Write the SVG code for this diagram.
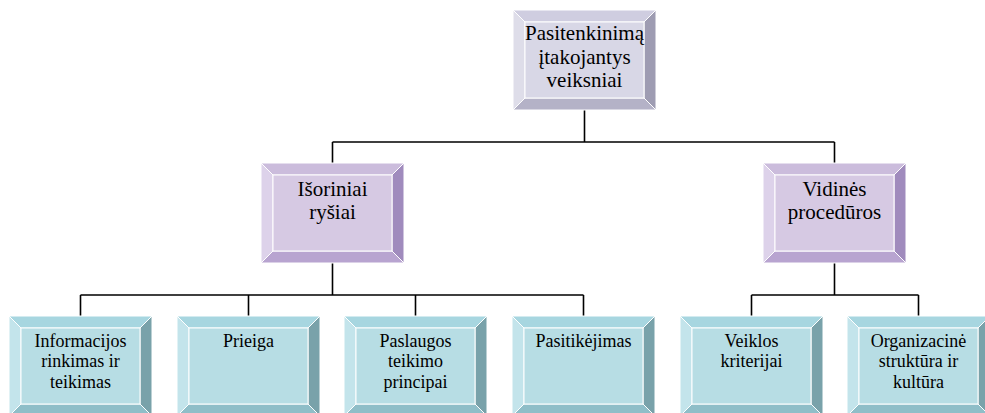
<svg xmlns="http://www.w3.org/2000/svg" width="985" height="413" viewBox="0 0 985 413">
<defs>
<style>
  .edge { stroke: #ffffff; stroke-width: 1; }
  .g .t { fill: #cfcde0; } .g .l { fill: #dedde9; } .g .r { fill: #9e9cb2; } .g .b { fill: #b4b2c7; } .g .in { fill: #d8d7e6; }
  .p .t { fill: #cbbcdc; } .p .l { fill: #ddd2ea; } .p .r { fill: #a08bbd; } .p .b { fill: #b8a4d0; } .p .in { fill: #d6c9e3; }
  .c .t { fill: #a7d6e0; } .c .l { fill: #c3e4eb; } .c .r { fill: #79a2aa; } .c .b { fill: #8fbec8; } .c .in { fill: #b7dde4; }
  .conn { fill: none; stroke: #000000; stroke-width: 1.6; }
</style>
</defs>

<g id="connectors">
  <path class="conn" d="M584.5,110 V142 M332.5,142 H834.5 M332.5,142 V163 M834.5,142 V163"/>
  <path class="conn" d="M332.5,263 V295 M80.5,295 H583.5 M80.5,295 V316 M248.5,295 V316 M415.5,295 V316 M583.5,295 V316"/>
  <path class="conn" d="M834.5,263 V295 M751.5,295 H918.5 M751.5,295 V316 M918.5,295 V316"/>
</g>

<g id="node-root" class="g" transform="translate(513,10)">
  <polygon class="t edge" points="0,0 143,0 131,12 12,12"/>
  <polygon class="l edge" points="0,0 12,12 12,88 0,100"/>
  <polygon class="r edge" points="143,0 143,100 131,88 131,12"/>
  <polygon class="b edge" points="0,100 12,88 131,88 143,100"/>
  <rect class="in edge" x="12" y="12" width="119" height="76"/>
  <text x="71.5" y="30" font-family="Liberation Serif" font-size="21" text-anchor="middle">Pasitenkinimą</text>
  <text x="71.5" y="54" font-family="Liberation Serif" font-size="21" text-anchor="middle">įtakojantys</text>
  <text x="71.5" y="77" font-family="Liberation Serif" font-size="21" text-anchor="middle">veiksniai</text>
</g>

<g id="node-isoriniai" class="p" transform="translate(261,163)">
  <polygon class="t edge" points="0,0 143,0 131,12 12,12"/>
  <polygon class="l edge" points="0,0 12,12 12,88 0,100"/>
  <polygon class="r edge" points="143,0 143,100 131,88 131,12"/>
  <polygon class="b edge" points="0,100 12,88 131,88 143,100"/>
  <rect class="in edge" x="12" y="12" width="119" height="76"/>
  <text x="71.5" y="33" font-family="Liberation Serif" font-size="21" text-anchor="middle">Išoriniai</text>
  <text x="71.5" y="56" font-family="Liberation Serif" font-size="21" text-anchor="middle">ryšiai</text>
</g>

<g id="node-vidines" class="p" transform="translate(763,163)">
  <polygon class="t edge" points="0,0 143,0 131,12 12,12"/>
  <polygon class="l edge" points="0,0 12,12 12,88 0,100"/>
  <polygon class="r edge" points="143,0 143,100 131,88 131,12"/>
  <polygon class="b edge" points="0,100 12,88 131,88 143,100"/>
  <rect class="in edge" x="12" y="12" width="119" height="76"/>
  <text x="71.5" y="33" font-family="Liberation Serif" font-size="21" text-anchor="middle">Vidinės</text>
  <text x="71.5" y="56" font-family="Liberation Serif" font-size="21" text-anchor="middle">procedūros</text>
</g>

<g id="node-informacijos" class="c" transform="translate(9,316)">
  <polygon class="t edge" points="0,0 143,0 131,12 12,12"/>
  <polygon class="l edge" points="0,0 12,12 12,88 0,100"/>
  <polygon class="r edge" points="143,0 143,100 131,88 131,12"/>
  <polygon class="b edge" points="0,100 12,88 131,88 143,100"/>
  <rect class="in edge" x="12" y="12" width="119" height="76"/>
  <text x="71.5" y="30.5" font-family="Liberation Serif" font-size="18" text-anchor="middle">Informacijos</text>
  <text x="71.5" y="51" font-family="Liberation Serif" font-size="18" text-anchor="middle">rinkimas ir</text>
  <text x="71.5" y="72" font-family="Liberation Serif" font-size="18" text-anchor="middle">teikimas</text>
</g>

<g id="node-prieiga" class="c" transform="translate(177,316)">
  <polygon class="t edge" points="0,0 143,0 131,12 12,12"/>
  <polygon class="l edge" points="0,0 12,12 12,88 0,100"/>
  <polygon class="r edge" points="143,0 143,100 131,88 131,12"/>
  <polygon class="b edge" points="0,100 12,88 131,88 143,100"/>
  <rect class="in edge" x="12" y="12" width="119" height="76"/>
  <text x="71.5" y="30.5" font-family="Liberation Serif" font-size="18" text-anchor="middle">Prieiga</text>
</g>

<g id="node-paslaugos" class="c" transform="translate(344,316)">
  <polygon class="t edge" points="0,0 143,0 131,12 12,12"/>
  <polygon class="l edge" points="0,0 12,12 12,88 0,100"/>
  <polygon class="r edge" points="143,0 143,100 131,88 131,12"/>
  <polygon class="b edge" points="0,100 12,88 131,88 143,100"/>
  <rect class="in edge" x="12" y="12" width="119" height="76"/>
  <text x="71.5" y="30.5" font-family="Liberation Serif" font-size="18" text-anchor="middle">Paslaugos</text>
  <text x="71.5" y="51" font-family="Liberation Serif" font-size="18" text-anchor="middle">teikimo</text>
  <text x="71.5" y="72" font-family="Liberation Serif" font-size="18" text-anchor="middle">principai</text>
</g>

<g id="node-pasitikejimas" class="c" transform="translate(512,316)">
  <polygon class="t edge" points="0,0 143,0 131,12 12,12"/>
  <polygon class="l edge" points="0,0 12,12 12,88 0,100"/>
  <polygon class="r edge" points="143,0 143,100 131,88 131,12"/>
  <polygon class="b edge" points="0,100 12,88 131,88 143,100"/>
  <rect class="in edge" x="12" y="12" width="119" height="76"/>
  <text x="71.5" y="30.5" font-family="Liberation Serif" font-size="18" text-anchor="middle">Pasitikėjimas</text>
</g>

<g id="node-veiklos" class="c" transform="translate(680,316)">
  <polygon class="t edge" points="0,0 143,0 131,12 12,12"/>
  <polygon class="l edge" points="0,0 12,12 12,88 0,100"/>
  <polygon class="r edge" points="143,0 143,100 131,88 131,12"/>
  <polygon class="b edge" points="0,100 12,88 131,88 143,100"/>
  <rect class="in edge" x="12" y="12" width="119" height="76"/>
  <text x="71.5" y="30.5" font-family="Liberation Serif" font-size="18" text-anchor="middle">Veiklos</text>
  <text x="71.5" y="51" font-family="Liberation Serif" font-size="18" text-anchor="middle">kriterijai</text>
</g>

<g id="node-organizacine" class="c" transform="translate(847,316)">
  <polygon class="t edge" points="0,0 143,0 131,12 12,12"/>
  <polygon class="l edge" points="0,0 12,12 12,88 0,100"/>
  <polygon class="r edge" points="143,0 143,100 131,88 131,12"/>
  <polygon class="b edge" points="0,100 12,88 131,88 143,100"/>
  <rect class="in edge" x="12" y="12" width="119" height="76"/>
  <text x="71.5" y="30.5" font-family="Liberation Serif" font-size="18" text-anchor="middle">Organizacinė</text>
  <text x="71.5" y="51" font-family="Liberation Serif" font-size="18" text-anchor="middle">struktūra ir</text>
  <text x="71.5" y="72" font-family="Liberation Serif" font-size="18" text-anchor="middle">kultūra</text>
</g>
</svg>
